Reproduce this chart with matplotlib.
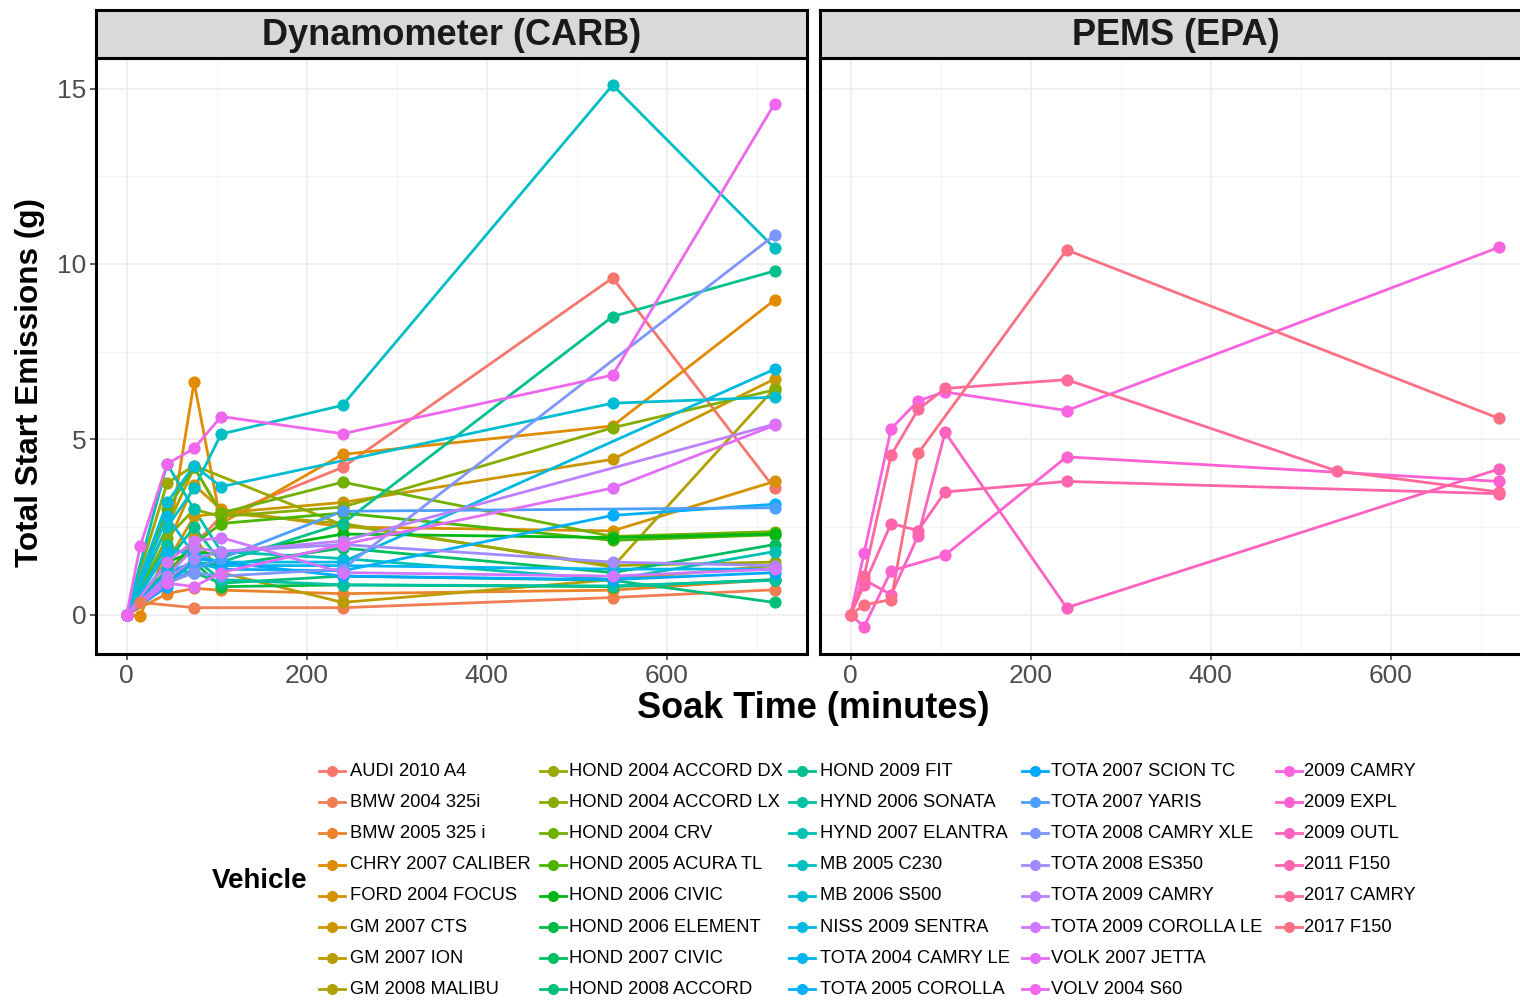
import numpy as np
import matplotlib
matplotlib.use('Agg')
import matplotlib.pyplot as plt

plt.rcParams['font.family'] = ['Liberation Sans', 'DejaVu Sans']

nan = np.nan

# soak times (minutes)
soak_times = [0, 15, 45, 75, 105, 240, 540, 720]

carb_names = ['AUDI 2010 A4', 'BMW 2004 325i', 'BMW 2005 325 i', 'CHRY 2007 CALIBER',
              'FORD 2004 FOCUS', 'GM 2007 CTS', 'GM 2007 ION', 'GM 2008 MALIBU',
              'HOND 2004 ACCORD DX', 'HOND 2004 ACCORD LX', 'HOND 2004 CRV', 'HOND 2005 ACURA TL',
              'HOND 2006 CIVIC', 'HOND 2006 ELEMENT', 'HOND 2007 CIVIC', 'HOND 2008 ACCORD',
              'HOND 2009 FIT', 'HYND 2006 SONATA', 'HYND 2007 ELANTRA', 'MB 2005 C230',
              'MB 2006 S500', 'NISS 2009 SENTRA', 'TOTA 2004 CAMRY LE', 'TOTA 2005 COROLLA',
              'TOTA 2007 SCION TC', 'TOTA 2007 YARIS', 'TOTA 2008 CAMRY XLE', 'TOTA 2008 ES350',
              'TOTA 2009 CAMRY', 'TOTA 2009 COROLLA LE', 'VOLK 2007 JETTA', 'VOLV 2004 S60']

# total start emissions (g), one row per vehicle, columns follow soak_times
carb_emis = [
    [0, nan, 1.2, 2.0, 2.8, 4.2, 9.6, 3.6],
    [0, 0.35, nan, 0.2, nan, 0.2, 0.49, 0.71],
    [0, nan, 0.6, 0.75, 0.7, 0.6, 0.7, 1.0],
    [0, -0.05, 1.9, 6.63, 2.6, 4.57, 5.38, 8.97],
    [0, nan, 2.0, 3.7, 3.0, 2.5, 2.39, 3.8],
    [0, nan, 1.5, 2.8, 2.9, 3.2, 4.43, 6.72],
    [0, nan, 1.0, 2.2, 1.2, 0.35, 1.0, 1.4],
    [0, nan, 2.5, 4.2, 2.9, 2.6, 1.36, 6.45],
    [0, nan, 3.75, 4.25, nan, 2.56, 1.4, 1.5],
    [0, nan, 2.2, 3.0, 2.8, 3.07, 5.33, 6.41],
    [0, nan, 3.0, 4.2, 2.9, 3.78, 2.23, 2.37],
    [0, nan, 1.2, 2.0, 2.6, 2.9, 2.12, 2.28],
    [0, nan, 1.5, 1.8, 1.7, 2.3, 2.2, 2.3],
    [0, nan, 0.9, 1.5, 0.8, 0.85, 0.8, 1.0],
    [0, nan, 1.0, 1.5, 1.4, 1.9, 1.2, 2.0],
    [0, nan, 1.3, 1.2, 0.9, 1.1, 0.98, 0.35],
    [0, nan, 1.5, 2.5, 1.5, 2.6, 8.5, 9.8],
    [0, nan, 2.0, 1.6, 1.0, 0.85, 0.82, 0.98],
    [0, nan, 4.3, 3.0, 1.8, 1.6, 1.0, 1.8],
    [0, nan, 2.5, 3.6, 5.15, 5.97, 15.1, 10.45],
    [0, nan, 3.2, 4.25, 3.65, nan, 6.03, 6.2],
    [0, nan, 2.8, 1.7, 1.5, 1.5, nan, 7.0],
    [0, nan, 1.8, 1.8, 1.4, 1.4, 1.3, 1.3],
    [0, nan, 1.2, 1.5, 1.3, 1.25, 2.83, 3.15],
    [0, nan, 0.8, 1.6, 1.5, 1.1, 1.0, 1.2],
    [0, nan, 0.9, 1.3, 1.6, 2.95, nan, 3.05],
    [0, nan, 0.9, 1.2, 1.1, 1.3, nan, 10.82],
    [0, nan, 1.0, 1.6, 1.8, 2.0, 1.5, 1.4],
    [0, nan, 1.1, 1.9, 1.8, 2.1, nan, 5.43],
    [0, nan, 1.5, 2.1, 2.2, 1.2, 1.1, 1.3],
    [0, nan, 0.9, 0.8, 1.2, 2.0, 3.61, 5.4],
    [0, 1.95, 4.3, 4.74, 5.65, 5.16, 6.83, 14.57],
]

pems_names = ['2009 CAMRY', '2009 EXPL', '2009 OUTL', '2011 F150', '2017 CAMRY', '2017 F150']

pems_emis = [
    [0, 1.76, 5.3, 6.1, 6.35, 5.82, nan, 10.47],
    [0, -0.34, 1.25, nan, 1.7, 4.5, nan, 3.8],
    [0, 1.0, 0.57, 2.25, 5.2, 0.2, nan, 4.15],
    [0, 0.85, 2.6, 2.4, 3.5, 3.8, nan, 3.45],
    [0, 1.1, 4.55, 5.85, 6.45, 6.7, 4.1, 3.5],
    [0, 0.28, 0.43, 4.6, nan, 10.4, nan, 5.6],
]


def hue_colors(n, h0=15, c=100, l=65):
    # same as ggplot's default hue palette (polar Luv -> sRGB)
    wx, wy, wz = 95.047, 100.0, 108.883
    wu = 4 * wx / (wx + 15 * wy + 3 * wz)
    wv = 9 * wy / (wx + 15 * wy + 3 * wz)
    out = []
    for i in range(n):
        h = np.deg2rad((h0 + 360.0 * i / n) % 360)
        u, v = c * np.cos(h), c * np.sin(h)
        Y = wy * ((l + 16) / 116) ** 3
        t = wu + u / (13 * l)
        x = wv + v / (13 * l)
        X = 9.0 * Y * t / (4 * x)
        Z = -X / 3 - 5 * Y + 3 * Y / x
        rgb = np.array([3.240479 * X - 1.537150 * Y - 0.498535 * Z,
                        -0.969256 * X + 1.875992 * Y + 0.041556 * Z,
                        0.055648 * X - 0.204043 * Y + 1.057311 * Z]) / wy
        rgb = np.where(rgb > 0.0031308, 1.055 * np.abs(rgb) ** (1 / 2.4) - 0.055, 12.92 * rgb)
        out.append(tuple(np.clip(rgb, 0, 1)))
    return out


all_names = carb_names + pems_names
colors = hue_colors(len(all_names))

W, H = 1520, 1002
fig = plt.figure(figsize=(W / 100, H / 100), dpi=100)


def px_rect(x0, y0, x1, y1):
    return [x0 / W, 1 - y1 / H, (x1 - x0) / W, (y1 - y0) / H]


panels = [(96, 'Dynamometer (CARB)', carb_emis, 0),
          (820, 'PEMS (EPA)', pems_emis, len(carb_names))]

for x0, title, emis, c0 in panels:
    ax = fig.add_axes(px_rect(x0, 58, x0 + 711, 654))
    ax.set_xlim(-34, 756)
    ax.set_ylim(-1.12, 15.87)
    ax.set_xticks([0, 200, 400, 600])
    ax.set_xticks([100, 300, 500, 700], minor=True)
    ax.set_yticks([0, 5, 10, 15])
    ax.set_yticks([2.5, 7.5, 12.5], minor=True)
    ax.grid(which='major', color='#EBEBEB', lw=1.1)
    ax.grid(which='minor', color='#F2F2F2', lw=0.6)
    ax.set_axisbelow(True)
    ax.tick_params(which='minor', length=0)
    ax.tick_params(which='major', length=4, width=1.1, color='#333333',
                   labelsize=19, labelcolor='#4D4D4D', pad=3)
    if x0 != 96:
        ax.tick_params(axis='y', left=False, labelleft=False)
    for sp in ax.spines.values():
        sp.set_linewidth(2.2)
        sp.set_color('black')

    xs = np.array(soak_times, dtype=float)
    for k, row in enumerate(emis):
        y = np.array(row, dtype=float)
        m = ~np.isnan(y)
        ax.plot(xs[m], y[m], '-', color=colors[c0 + k], lw=2.0, zorder=2)
    for k, row in enumerate(emis):
        y = np.array(row, dtype=float)
        m = ~np.isnan(y)
        ax.plot(xs[m], y[m], 'o', color=colors[c0 + k], ms=8.8, mew=0, zorder=3,
                clip_on=False)

    st = fig.add_axes(px_rect(x0, 10, x0 + 711, 58))
    st.set_facecolor('#D9D9D9')
    st.set_xticks([])
    st.set_yticks([])
    for sp in st.spines.values():
        sp.set_linewidth(2.2)
        sp.set_color('black')
    st.text(0.5, 0.46, title, transform=st.transAxes, ha='center', va='center',
            fontsize=26, fontweight='bold', color='#1A1A1A')

fig.text(30 / W, 1 - 382 / H, 'Total Start Emissions (g)', rotation=90,
         ha='center', va='center', fontsize=22.7, fontweight='bold')
fig.text(813 / W, 1 - 708 / H, 'Soak Time (minutes)', ha='center', va='center',
         fontsize=26, fontweight='bold')

# legend
lax = fig.add_axes([0, 0, 1, 1], zorder=-1)
lax.set_xlim(0, W)
lax.set_ylim(H, 0)
lax.axis('off')
key_x = [332, 553, 802, 1035, 1289]
text_x = [350, 569, 820, 1051, 1304]
lax.text(260, 881, 'Vehicle', ha='center', va='center', fontsize=20, fontweight='bold')
for k, name in enumerate(all_names):
    col, row = k // 8, k % 8
    ry = 771 + 31.2 * row
    kx = key_x[col]
    lax.plot([kx - 13, kx + 13], [ry, ry], color=colors[k], lw=2.0)
    lax.plot([kx], [ry], 'o', color=colors[k], ms=8, mew=0)
    lax.text(text_x[col], ry, name, ha='left', va='center', fontsize=13.2, color='black')

fig.savefig('out.png', dpi=100)
